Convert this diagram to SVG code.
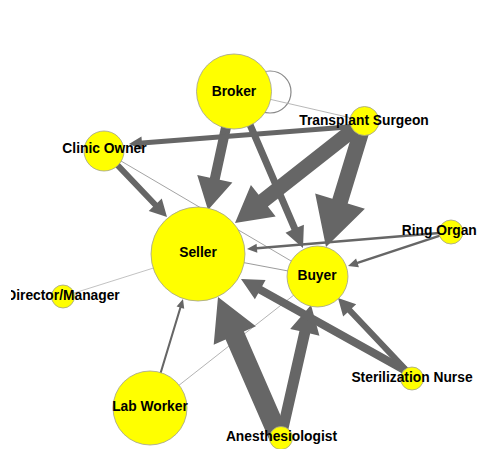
<svg xmlns="http://www.w3.org/2000/svg" width="478" height="449" viewBox="0 0 478 449">
<defs>
<style>
.arr{fill:#666;stroke:none}
.thin{stroke:#a0a0a0;stroke-width:0.9;fill:none}
.node{fill:#ffff00;stroke:#a0a090;stroke-width:0.8}
.lbl{font-family:"Liberation Sans",Arial,sans-serif;font-weight:bold;font-size:13.8px;fill:#000;text-anchor:middle}
</style>
<clipPath id="clipL"><rect x="11" y="0" width="467" height="449"/></clipPath>
</defs>
<rect width="478" height="449" fill="#fff"/>
<g id="connectors">
<circle class="thin" cx="270" cy="92" r="21" style="stroke:#888;stroke-width:1.2"/>
<line class="thin" x1="234" y1="91" x2="364.5" y2="121" style="stroke:#b0b0b0"/>
<line class="thin" x1="104" y1="151" x2="317.5" y2="276.5" style="stroke:#999"/>
<line class="thin" x1="198" y1="254" x2="317.5" y2="276.5" style="stroke:#909090"/>
<line class="thin" x1="63" y1="296.5" x2="198" y2="254" style="stroke:#bbb"/>
<line class="thin" x1="150" y1="408" x2="317.5" y2="276.5" style="stroke:#aaa"/>
<polygon class="arr" transform="translate(208,210) rotate(102.3)" points="-122,-5 -32,-5 -32,-18 0,0 -32,18 -32,5 -122,5"/>
<polygon class="arr" transform="translate(303,248) rotate(66.75)" points="-170,-3.5 -21,-3.5 -21,-10 0,0 -21,10 -21,3.5 -170,3.5"/>
<polygon class="arr" transform="translate(235,223) rotate(141.77)" points="-165,-7.5 -36,-7.5 -36,-20 0,0 -36,20 -36,7.5 -165,7.5"/>
<polygon class="arr" transform="translate(326,247) rotate(107)" points="-132,-8 -48,-8 -48,-26 0,0 -48,26 -48,8 -132,8"/>
<polygon class="arr" transform="translate(129,144) rotate(175.54)" points="-232,-2.5 -13,-2.5 -13,-6.5 0,0 -13,6.5 -13,2.5 -232,2.5"/>
<polygon class="arr" transform="translate(167,217) rotate(46.33)" points="-91,-3 -17,-3 -17,-9 0,0 -17,9 -17,3 -91,3"/>
<polygon class="arr" transform="translate(247,249) rotate(175.24)" points="-205,-1.25 -10,-1.25 -10,-4.5 0,0 -10,4.5 -10,1.25 -205,1.25"/>
<polygon class="arr" transform="translate(348,266) rotate(161.73)" points="-108,-1.25 -10,-1.25 -10,-4.5 0,0 -10,4.5 -10,1.25 -108,1.25"/>
<polygon class="arr" transform="translate(183,299) rotate(-73.16)" points="-114,-1 -9,-1 -9,-4 0,0 -9,4 -9,1 -114,1"/>
<polygon class="arr" transform="translate(218,297) rotate(-113.54)" points="-153,-10 -42,-10 -42,-23 0,0 -42,23 -42,10 -153,10"/>
<polygon class="arr" transform="translate(311,305) rotate(-77.2)" points="-135,-5.5 -28,-5.5 -28,-15 0,0 -28,15 -28,5.5 -135,5.5"/>
<polygon class="arr" transform="translate(241,279) rotate(-150.89)" points="-191,-4 -22,-4 -22,-11 0,0 -22,11 -22,4 -191,4"/>
<polygon class="arr" transform="translate(338,298) rotate(-133.4)" points="-102,-3 -17,-3 -17,-9 0,0 -17,9 -17,3 -102,3"/>
</g>
<g id="node-broker"><circle class="node" cx="234" cy="91.5" r="37.5"/></g>
<g id="node-transplant-surgeon"><circle class="node" cx="364.5" cy="121" r="14.5"/></g>
<g id="node-clinic-owner"><circle class="node" cx="104" cy="151" r="20"/></g>
<g id="node-seller"><circle class="node" cx="198" cy="254" r="47"/></g>
<g id="node-director-manager"><circle class="node" cx="63" cy="296.5" r="11.5"/></g>
<g id="node-buyer"><circle class="node" cx="317.5" cy="276.5" r="30.5"/></g>
<g id="node-ring-organ"><circle class="node" cx="451" cy="232" r="12"/></g>
<g id="node-sterilization-nurse"><circle class="node" cx="412" cy="378.5" r="11.5"/></g>
<g id="node-lab-worker"><circle class="node" cx="150" cy="408" r="37"/></g>
<g id="node-anesthesiologist"><circle class="node" cx="281" cy="438" r="11.5"/></g>
<g id="labels">
<text class="lbl" x="234" y="96">Broker</text>
<text class="lbl" x="364" y="125">Transplant Surgeon</text>
<text class="lbl" x="104.5" y="153.3">Clinic Owner</text>
<text class="lbl" x="198" y="256.7">Seller</text>
<text class="lbl" x="63" y="300" clip-path="url(#clipL)">Director/Manager</text>
<text class="lbl" x="317" y="280">Buyer</text>
<text class="lbl" x="401.7" y="235" style="text-anchor:start">Ring Organ</text>
<text class="lbl" x="412" y="381.7">Sterilization Nurse</text>
<text class="lbl" x="150" y="411">Lab Worker</text>
<text class="lbl" x="281.5" y="440.7">Anesthesiologist</text>
</g>
</svg>
